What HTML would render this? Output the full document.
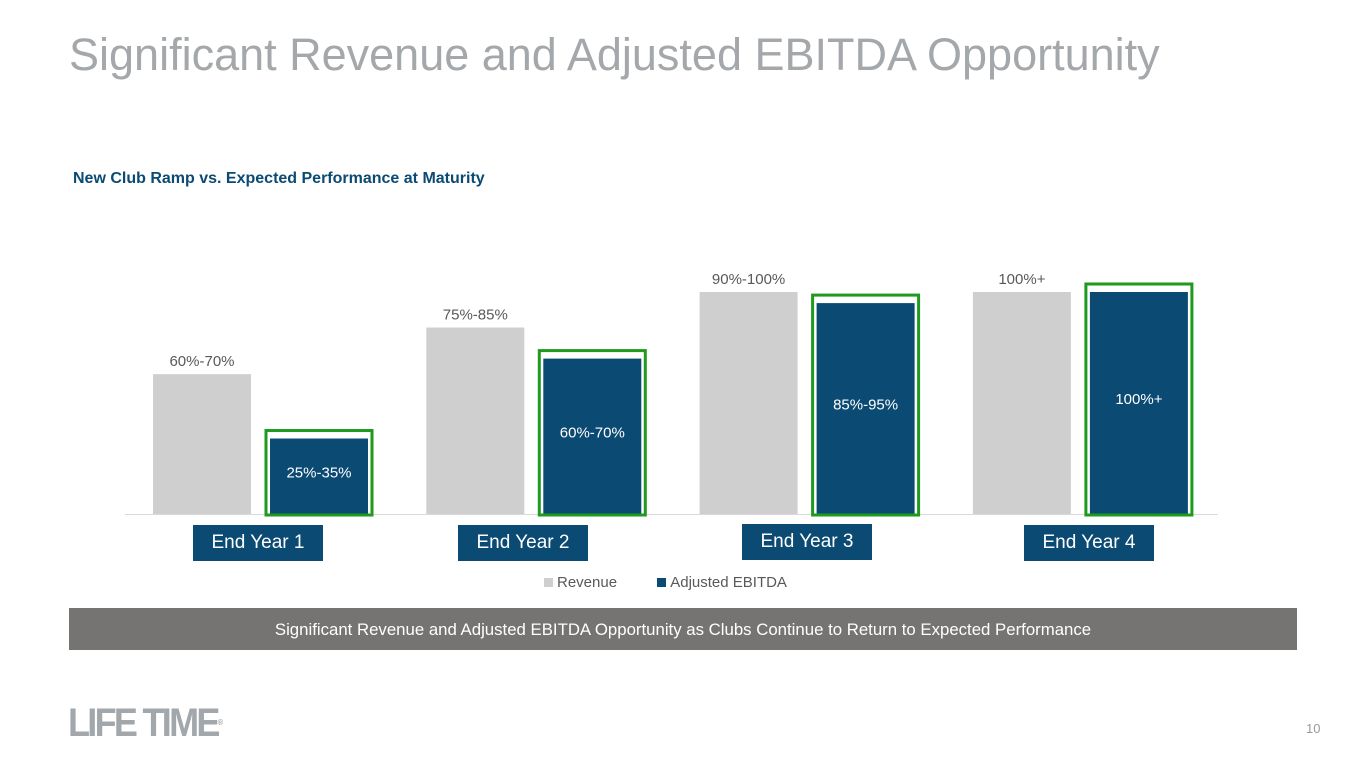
<!DOCTYPE html>
<html><head><meta charset="utf-8"><style>
body{margin:0;width:1365px;height:768px;background:#fff;font-family:"Liberation Sans",Arial,sans-serif;position:relative;overflow:hidden}
.abs{position:absolute}
.yr{position:absolute;background:#0b4a73;color:#fff;font-size:19px;text-align:center;line-height:36px;height:36px;width:130px}
</style></head><body>
<div class="abs" style="left:69px;top:29px;font-size:45px;color:#a5a8ab;white-space:nowrap">Significant Revenue and Adjusted EBITDA Opportunity</div>
<div class="abs" style="left:73px;top:170px;font-size:16px;font-weight:bold;color:#0b4a73">New Club Ramp vs. Expected Performance at Maturity</div>
<svg class="abs" style="left:0;top:0" width="1365" height="768" id="chart"></svg>
<div class="yr" style="left:193px;top:525px">End Year 1</div>
<div class="yr" style="left:458px;top:525px">End Year 2</div>
<div class="yr" style="left:742px;top:524px">End Year 3</div>
<div class="yr" style="left:1024px;top:525px">End Year 4</div>
<div class="abs" style="left:544px;top:574px;font-size:15px;color:#595959;white-space:nowrap">
<span><span style="display:inline-block;width:9px;height:9px;background:#cfcfcf;margin-right:4px"></span>Revenue</span>
<span style="margin-left:36px"><span style="display:inline-block;width:9px;height:9px;background:#0b4a73;margin-right:4px"></span>Adjusted EBITDA</span>
</div>
<div class="abs" style="left:69px;top:608px;width:1228px;height:42px;background:#767373;color:#fff;font-size:16.8px;text-align:center;line-height:44px">Significant Revenue and Adjusted EBITDA Opportunity as Clubs Continue to Return to Expected Performance</div>
<div class="abs" style="left:68px;top:701px;font-size:40px;font-weight:bold;color:#a2a7ab;letter-spacing:-3px;transform:scaleX(0.9);transform-origin:left;line-height:44px;font-family:'Liberation Sans Narrow','Liberation Sans',sans-serif">LIFE TIME<span style="font-size:8px;vertical-align:top;letter-spacing:0">®</span></div>
<div class="abs" style="left:1306px;top:721px;font-size:13px;color:#9a9a9a">10</div>
<script>
const categories=["End Year 1","End Year 2","End Year 3","End Year 4"];
const revenue=[63,84,100,100];
const ebitda=[34,70,95,100];
const revenueLabels=["60%-70%","75%-85%","90%-100%","100%+"];
const ebitdaLabels=["25%-35%","60%-70%","85%-95%","100%+"];
const svg=document.getElementById('chart');const NS='http://www.w3.org/2000/svg';
const x0=125,band=273.3,base=514,k=2.22,bw=98;
const y=v=>base-v*k;
function mk(t,a){const e=document.createElementNS(NS,t);for(const q in a)e.setAttribute(q,a[q]);svg.appendChild(e);return e;}
const ax=mk('line',{x1:125,x2:1218,y1:base+0.5,y2:base+0.5,stroke:'#d9d9d9'});


categories.forEach((c,i)=>{
 const rx=x0+i*band+28, ex=x0+i*band+145;
 const r=mk('rect',{x:rx,y:y(revenue[i]),width:bw,height:revenue[i]*k,fill:'#cfcfcf'});
 
 
 const e=mk('rect',{x:ex,y:y(ebitda[i]),width:bw,height:ebitda[i]*k,fill:'#0b4a73'});
 
 
 const h=mk('rect',{x:ex-4,y:y(ebitda[i])-8,width:bw+8,height:ebitda[i]*k+9,fill:'none',stroke:'#1e9a1e','stroke-width':3});
 
 
 const rl=mk('text',{x:rx+bw/2,y:y(revenue[i])-8,'text-anchor':'middle','font-size':15,fill:'#595959'});rl.textContent=revenueLabels[i];
 
 
 const el=mk('text',{x:ex+bw/2,y:base-ebitda[i]*k/2+1,'text-anchor':'middle','font-size':15,fill:'#fff'});el.textContent=ebitdaLabels[i];
 
 
});
</script>
</body></html>
